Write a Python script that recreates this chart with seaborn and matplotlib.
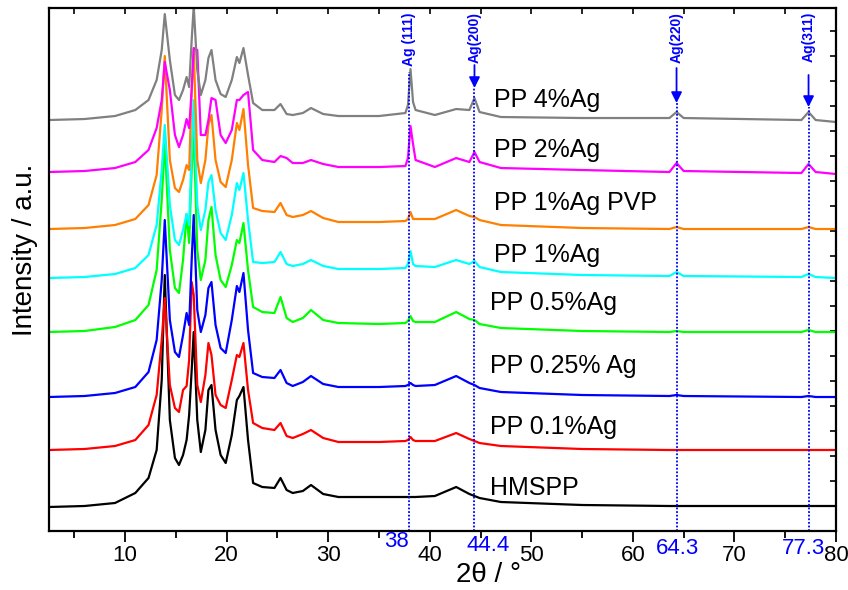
import numpy as np
import pandas as pd
import seaborn as sns
import matplotlib
import matplotlib.pyplot as plt
from matplotlib.ticker import MultipleLocator
from matplotlib.transforms import blended_transform_factory

matplotlib.use("Agg")

# 2theta sampling points
two_theta = [2.5, 6, 9, 11, 12.3, 13.1, 13.6, 13.9, 14.4, 14.9, 15.3, 15.7, 16.05, 16.3, 16.55,
             16.75, 17.1, 17.45, 17.9, 18.2, 18.5, 18.9, 19.4, 19.9, 20.5, 21.0, 21.25, 21.65, 22.1,
             22.6, 23.5, 24.7, 25.3, 25.9, 26.5, 27.5, 28.3, 29.5, 31, 35, 37.6, 37.85, 38.1, 38.35,
             38.6, 40.5, 42.6, 43.9, 44.4, 44.9, 47, 55, 63.6, 64.3, 65.0, 76.6, 77.3, 78.0, 80]

# intensities above each curve's own baseline (a.u.)
hmspp = [0, 1, 4, 14, 29, 57, 127, 232, 87, 49, 42, 52, 67, 92, 137,
         175, 87, 55, 77, 117, 122, 77, 52, 44, 72, 107, 111, 120, 67,
         24, 20, 19, 29, 17, 14, 16, 22, 13, 10, 10, 10, 10, 10, 10,
         10, 11, 20, 13, 11, 9, 5, 2, 1, 1, 1, 1, 1, 1, 1]
pp_01 = [0, 1, 4, 10, 25, 55, 110, 152, 65, 42, 38, 60, 64, 90, 168,
         155, 65, 48, 75, 107, 95, 55, 45, 42, 70, 95, 93, 107, 60,
         27, 22, 20, 27, 14, 12, 16, 20, 12, 8, 8, 9, 10, 13, 10,
         9, 9, 17, 11, 9, 7, 4, 1, 0, 0, 0, 0, 0, 0, 0]
pp_025 = [0, 1, 4, 10, 25, 57, 117, 177, 77, 45, 40, 62, 84, 72, 137,
          182, 87, 65, 82, 109, 115, 72, 49, 44, 77, 111, 105, 124, 67,
          24, 20, 19, 27, 14, 11, 15, 21, 13, 10, 10, 11, 12, 14, 12,
          11, 12, 21, 14, 12, 9, 5, 2, 1, 2, 1, 0, 1, 0, 0]
pp_05 = [0, 1, 5, 12, 27, 62, 132, 190, 82, 44, 39, 72, 118, 89, 162,
         202, 82, 52, 72, 112, 125, 77, 52, 45, 67, 92, 89, 109, 62,
         25, 20, 19, 35, 14, 10, 14, 22, 12, 9, 8, 9, 11, 16, 11,
         10, 10, 20, 13, 12, 8, 4, 1, 0, 1, 0, 0, 2, 0, 0]
pp_1 = [0, 1, 4, 10, 23, 53, 108, 153, 73, 38, 33, 48, 64, 53, 128,
        178, 73, 48, 68, 96, 103, 68, 45, 38, 63, 95, 88, 105, 58,
        16, 15, 16, 26, 14, 12, 14, 18, 12, 9, 9, 10, 14, 27, 14,
        12, 11, 18, 14, 17, 11, 6, 3, 2, 6, 2, 1, 4, 1, 0]
pp_1_pvp = [0, 1, 4, 10, 24, 54, 119, 173, 69, 41, 37, 49, 64, 59, 139,
            180, 69, 46, 69, 104, 114, 69, 47, 42, 69, 106, 99, 120, 64,
            21, 18, 17, 26, 14, 12, 14, 18, 11, 7, 7, 8, 10, 17, 10,
            10, 10, 19, 13, 12, 9, 4, 1, 0, 2, 0, 0, 2, 0, 0]
pp_2 = [0, 1, 4, 10, 22, 44, 72, 110, 82, 37, 25, 37, 53, 44, 82,
        124, 122, 37, 37, 52, 74, 72, 37, 29, 42, 72, 72, 77, 80,
        22, 12, 10, 16, 14, 9, 9, 12, 8, 5, 5, 6, 14, 46, 28,
        12, 5, 14, 10, 20, 10, 4, 2, 0, 9, 1, -1, 8, 0, -2]
pp_4 = [0, 1, 4, 10, 20, 40, 70, 106, 60, 25, 20, 30, 43, 33, 80,
        114, 50, 25, 40, 62, 70, 40, 26, 23, 40, 63, 57, 72, 45,
        17, 10, 10, 16, 6, 5, 7, 12, 6, 4, 4, 7, 15, 51, 18,
        10, 5, 11, 10, 22, 8, 3, 2, 2, 8, 2, 0, 8, 0, -2]

series_names = ["HMSPP", "PP 0.1%Ag", "PP 0.25% Ag", "PP 0.5%Ag",
                "PP 1%Ag", "PP 1%Ag PVP", "PP 2%Ag", "PP 4%Ag"]
series_colors = ["#000000", "#FF0000", "#0000FF", "#00FF00",
                 "#00FFFF", "#FF8000", "#FF00FF", "#808080"]
offsets = [24, 81, 134, 199, 253, 302, 359, 411]

ag_positions = [38.0, 44.4, 64.3, 77.3]
ag_tick_labels = ["38", "44.4", "64.3", "77.3"]
ag_planes = ["Ag (111)", "Ag(200)", "Ag(220)", "Ag(311)"]


def build_frame() -> pd.DataFrame:
    profiles = [hmspp, pp_01, pp_025, pp_05, pp_1, pp_1_pvp, pp_2, pp_4]
    frames = []
    for name, prof, off in zip(series_names, profiles, offsets):
        frames.append(pd.DataFrame({"two_theta": two_theta,
                                    "intensity": np.array(prof, dtype=float) + off,
                                    "sample": name}))
    return pd.concat(frames, ignore_index=True)


def plot_xrd(df: pd.DataFrame, plot_file_path: str) -> None:
    fig = plt.figure(figsize=(8.48, 5.90), dpi=100)
    ax = fig.add_axes([0.0578, 0.1, 0.928, 0.8864])

    sns.lineplot(data=df, x="two_theta", y="intensity", hue="sample",
                 hue_order=series_names, palette=series_colors, estimator=None,
                 sort=False, legend=False, linewidth=1.6, ax=ax)

    ax.set_xlim(2.5, 80)
    ax.set_ylim(0, 523)

    # sample names next to each curve
    label_pos = [(45.9, 43), (45.9, 104), (45.9, 165), (45.9, 228),
                 (46.3, 276), (46.3, 328), (46.3, 381), (46.3, 431)]
    for name, (lx, ly) in zip(series_names, label_pos):
        ax.text(lx, ly, name, fontsize=18, va="center", ha="left", color="black")

    # Ag reflections: dotted markers, arrows and plane labels
    line_tops = [459, 443, 428, 424]
    arrow_tails = [None, 466, 463, 456]
    for pos, top, tail, plane in zip(ag_positions, line_tops, arrow_tails, ag_planes):
        ax.plot([pos, pos], [0, top], color="blue", linestyle=(0, (1, 1)), linewidth=1.3)
        if tail is not None:
            ax.annotate("", xy=(pos, top), xytext=(pos, tail),
                        arrowprops=dict(arrowstyle="-|>", color="blue", lw=1.3,
                                        mutation_scale=16, shrinkA=0, shrinkB=0))
        ax.text(pos, 519, plane, rotation=90, ha="center", va="top",
                fontsize=10, fontweight="bold", color="blue")

    trans = blended_transform_factory(ax.transData, ax.transAxes)
    label_x = [36.7, 45.7, 64.4, 76.8]
    label_y = [-0.02, -0.027, -0.034, -0.034]
    for lx, ly, txt in zip(label_x, label_y, ag_tick_labels):
        ax.text(lx, ly, txt, transform=trans, color="blue", fontsize=16,
                ha="center", va="center")

    ax.xaxis.set_major_locator(MultipleLocator(10))
    ax.xaxis.set_minor_locator(MultipleLocator(5))
    ax.set_xticks([10, 20, 30, 40, 50, 60, 70, 80])
    ax.tick_params(axis="x", which="major", direction="out", length=8, width=1.3,
                   labelsize=16, pad=2, colors="black")
    ax.tick_params(axis="x", which="minor", direction="out", length=5, width=1.3,
                   colors="black")
    ax.set_yticks([])

    top = ax.secondary_xaxis("top")
    top.xaxis.set_major_locator(MultipleLocator(5))
    top.tick_params(direction="in", length=4, width=1.2, labeltop=False, colors="black")
    right = ax.secondary_yaxis("right")
    right.yaxis.set_major_locator(MultipleLocator(25))
    right.tick_params(direction="in", length=4, width=1.2, labelright=False, colors="black")
    for sec in (top, right):
        for sp in sec.spines.values():
            sp.set_visible(False)

    for sp in ax.spines.values():
        sp.set_visible(True)
        sp.set_linewidth(1.6)
        sp.set_color("black")

    ax.set_xlabel("2θ / °", fontsize=20, color="black")
    ax.xaxis.set_label_coords(0.558, -0.06)
    ax.set_ylabel("Intensity / a.u.", fontsize=20, color="black")
    ax.yaxis.set_label_coords(-0.014, 0.537)

    fig.savefig(plot_file_path, dpi=100)
    plt.close(fig)


sns.set_style("ticks")
plt.rcParams["font.family"] = ["Liberation Sans", "DejaVu Sans"]
plt.rcParams["text.color"] = "black"

if __name__ == "__main__":
    plot_xrd(build_frame(), "out.png")
